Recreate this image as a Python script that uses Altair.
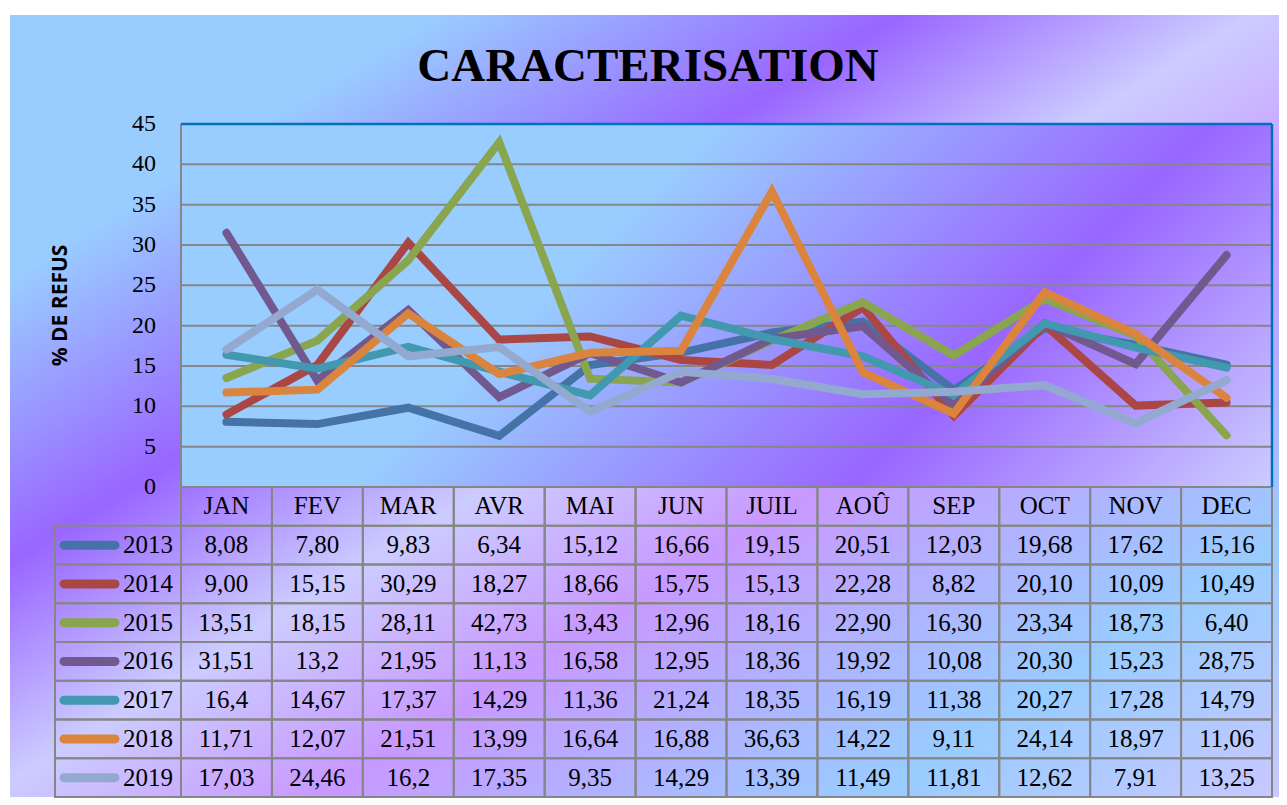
import altair as alt
import pandas as pd

# ---------------- data ----------------
months = ["JAN", "FEV", "MAR", "AVR", "MAI", "JUN", "JUIL", "AOÛ", "SEP", "OCT", "NOV", "DEC"]
years = ["2013", "2014", "2015", "2016", "2017", "2018", "2019"]
v2013 = ["8,08", "7,80", "9,83", "6,34", "15,12", "16,66", "19,15", "20,51", "12,03", "19,68", "17,62", "15,16"]
v2014 = ["9,00", "15,15", "30,29", "18,27", "18,66", "15,75", "15,13", "22,28", "8,82", "20,10", "10,09", "10,49"]
v2015 = ["13,51", "18,15", "28,11", "42,73", "13,43", "12,96", "18,16", "22,90", "16,30", "23,34", "18,73", "6,40"]
v2016 = ["31,51", "13,2", "21,95", "11,13", "16,58", "12,95", "18,36", "19,92", "10,08", "20,30", "15,23", "28,75"]
v2017 = ["16,4", "14,67", "17,37", "14,29", "11,36", "21,24", "18,35", "16,19", "11,38", "20,27", "17,28", "14,79"]
v2018 = ["11,71", "12,07", "21,51", "13,99", "16,64", "16,88", "36,63", "14,22", "9,11", "24,14", "18,97", "11,06"]
v2019 = ["17,03", "24,46", "16,2", "17,35", "9,35", "14,29", "13,39", "11,49", "11,81", "12,62", "7,91", "13,25"]
series = [v2013, v2014, v2015, v2016, v2017, v2018, v2019]
colors = ["#4572A7", "#AA4643", "#89A54E", "#71588F", "#4198AF", "#DB843D", "#93A9CF"]
y_ticks = [0, 5, 10, 15, 20, 25, 30, 35, 40, 45]
grid_vals = [0, 5, 10, 15, 20, 25, 30, 35, 40]
title_text = "CARACTERISATION"
y_title = "% DE REFUS"

# ---------------- layout constants ----------------
W, H = 1091, 363
YMAX = 45
PX_PER_UNIT = H / YMAX
ROW_PX = 38.75
RH = ROW_PX / PX_PER_UNIT
GRID = "#868686"
SERIF = "Liberation Serif"

# ---------------- tables ----------------
line_rows = []
for y, vals in zip(years, series):
    for m, s in zip(months, vals):
        line_rows.append({"month": m, "year": y, "value": float(s.replace(",", "."))})
line_df = pd.DataFrame(line_rows)

row_names = ["header"] + years
cell_rows = []
for r, rn in enumerate(row_names):
    for i, m in enumerate(months):
        label = m if rn == "header" else series[r - 1][i]
        cell_rows.append({"month": m, "top": -RH * r, "bot": -RH * (r + 1),
                          "mid": -RH * (r + 0.5), "label": label})
cell_df = pd.DataFrame(cell_rows)

leg_df = pd.DataFrame({
    "year": years,
    "top": [-RH * (r + 1) for r in range(len(years))],
    "bot": [-RH * (r + 2) for r in range(len(years))],
    "mid": [-RH * (r + 1.5) for r in range(len(years))],
})
grid_df = pd.DataFrame({"v": grid_vals})
tick_df = pd.DataFrame({"v": y_ticks, "lab": [str(t) for t in y_ticks]})
one = pd.DataFrame({"k": [0]})

# ---------------- scales ----------------
ysc = alt.Scale(domain=[0, YMAX], nice=False, zero=False)
xsc = alt.Scale(type="band", domain=months, paddingInner=0, paddingOuter=0)
csc = alt.Scale(domain=years, range=colors)

outer_grad = alt.LinearGradient(
    gradient="linear", x1=0, y1=0, x2=1, y2=1,
    stops=[
        alt.GradientStop(color="#99CCFF", offset=0.0),
        alt.GradientStop(color="#99CCFF", offset=0.17),
        alt.GradientStop(color="#9966FF", offset=0.35),
        alt.GradientStop(color="#CCCCFF", offset=0.49),
        alt.GradientStop(color="#C899FF", offset=0.62),
        alt.GradientStop(color="#99CCFF", offset=0.84),
        alt.GradientStop(color="#C8C8FF", offset=1.0),
    ])
r = H / W
k = (1 + r) / (1 + r * r)
plot_grad = alt.LinearGradient(
    gradient="linear", x1=0, y1=0, x2=k, y2=k * r,
    stops=[
        alt.GradientStop(color="#99CCFF", offset=0.0),
        alt.GradientStop(color="#99CCFF", offset=0.37),
        alt.GradientStop(color="#9966FF", offset=0.71),
        alt.GradientStop(color="#CCCCFF", offset=1.0),
    ])

outer_bg = alt.Chart(one).mark_rect(fill=outer_grad).encode(
    x=alt.value(-171), x2=alt.value(1098),
    y=alt.value(-109), y2=alt.value(H + 8 * ROW_PX))

plot_bg = alt.Chart(one).mark_rect(fill=plot_grad).encode(
    x=alt.value(0), x2=alt.value(W), y=alt.value(0), y2=alt.value(H))

grid = alt.Chart(grid_df).mark_rule(color=GRID, strokeWidth=2).encode(
    y=alt.Y("v:Q", scale=ysc, axis=None))

tick_labels = alt.Chart(tick_df).mark_text(
    font=SERIF, fontSize=24, color="black", align="right", baseline="middle").encode(
    x=alt.value(-25), y=alt.Y("v:Q", scale=ysc, axis=None), text="lab:N")

y_title_mark = alt.Chart(one).mark_text(
    text=y_title, font="Open Sans", fontSize=21, fontWeight="bold", color="black",
    angle=270, align="center", baseline="middle").encode(
    x=alt.value(-120), y=alt.value(H / 2))

top_border = alt.Chart(one).mark_rule(color="#0070C0", strokeWidth=2.5).encode(
    y=alt.Y(datum=YMAX, scale=ysc, axis=None), x=alt.value(0), x2=alt.value(W))
right_border = alt.Chart(one).mark_rule(color="#0070C0", strokeWidth=2.5).encode(
    x=alt.value(W), y=alt.Y(datum=YMAX, scale=ysc, axis=None), y2=alt.datum(0))
left_border = alt.Chart(one).mark_rule(color=GRID, strokeWidth=2).encode(
    x=alt.value(0), y=alt.Y(datum=YMAX, scale=ysc, axis=None), y2=alt.datum(0))

cells = alt.Chart(cell_df).mark_rect(fillOpacity=0, stroke=GRID, strokeWidth=2).encode(
    x=alt.X("month:N", scale=xsc, axis=None),
    y=alt.Y("top:Q", scale=ysc, axis=None), y2="bot:Q")

cell_text = alt.Chart(cell_df).mark_text(
    font=SERIF, fontSize=25, color="black", baseline="middle", align="center").encode(
    x=alt.X("month:N", scale=xsc, axis=None, bandPosition=0.5),
    y=alt.Y("mid:Q", scale=ysc, axis=None), text="label:N")

leg_cells = alt.Chart(leg_df).mark_rect(fillOpacity=0, stroke=GRID, strokeWidth=2).encode(
    x=alt.value(-126), x2=alt.value(0),
    y=alt.Y("top:Q", scale=ysc, axis=None), y2="bot:Q")

leg_swatch = alt.Chart(leg_df).mark_rule(strokeWidth=9, strokeCap="round").encode(
    x=alt.value(-117), x2=alt.value(-66),
    y=alt.Y("mid:Q", scale=ysc, axis=None),
    color=alt.Color("year:N", scale=csc, legend=None))

leg_text = alt.Chart(leg_df).mark_text(
    font=SERIF, fontSize=25, color="black", baseline="middle", align="right").encode(
    x=alt.value(-8), y=alt.Y("mid:Q", scale=ysc, axis=None), text="year:N")

lines = alt.Chart(line_df).mark_line(strokeWidth=8, strokeCap="round").encode(
    x=alt.X("month:N", scale=xsc, axis=None, bandPosition=0.5, sort=months),
    y=alt.Y("value:Q", scale=ysc, axis=None),
    color=alt.Color("year:N", scale=csc, legend=None),
    order=alt.Order("idx:Q"),
).transform_window(idx="row_number()", groupby=["year"])

title = alt.Chart(one).mark_text(
    text=title_text, font=SERIF, fontSize=47, fontWeight="bold",
    color="black", align="center", baseline="alphabetic").encode(
    x=alt.value(467), y=alt.value(-43))

chart = alt.layer(
    outer_bg, plot_bg, grid, left_border, cells, leg_cells, leg_swatch, leg_text,
    cell_text, tick_labels, y_title_mark, lines, top_border, right_border, title
).properties(
    width=W, height=H,
    padding={"left": 2, "top": 7, "right": 0, "bottom": 0},
).configure_view(strokeWidth=0)

chart.save("out.html", embed_options={"renderer": "svg", "actions": False})
